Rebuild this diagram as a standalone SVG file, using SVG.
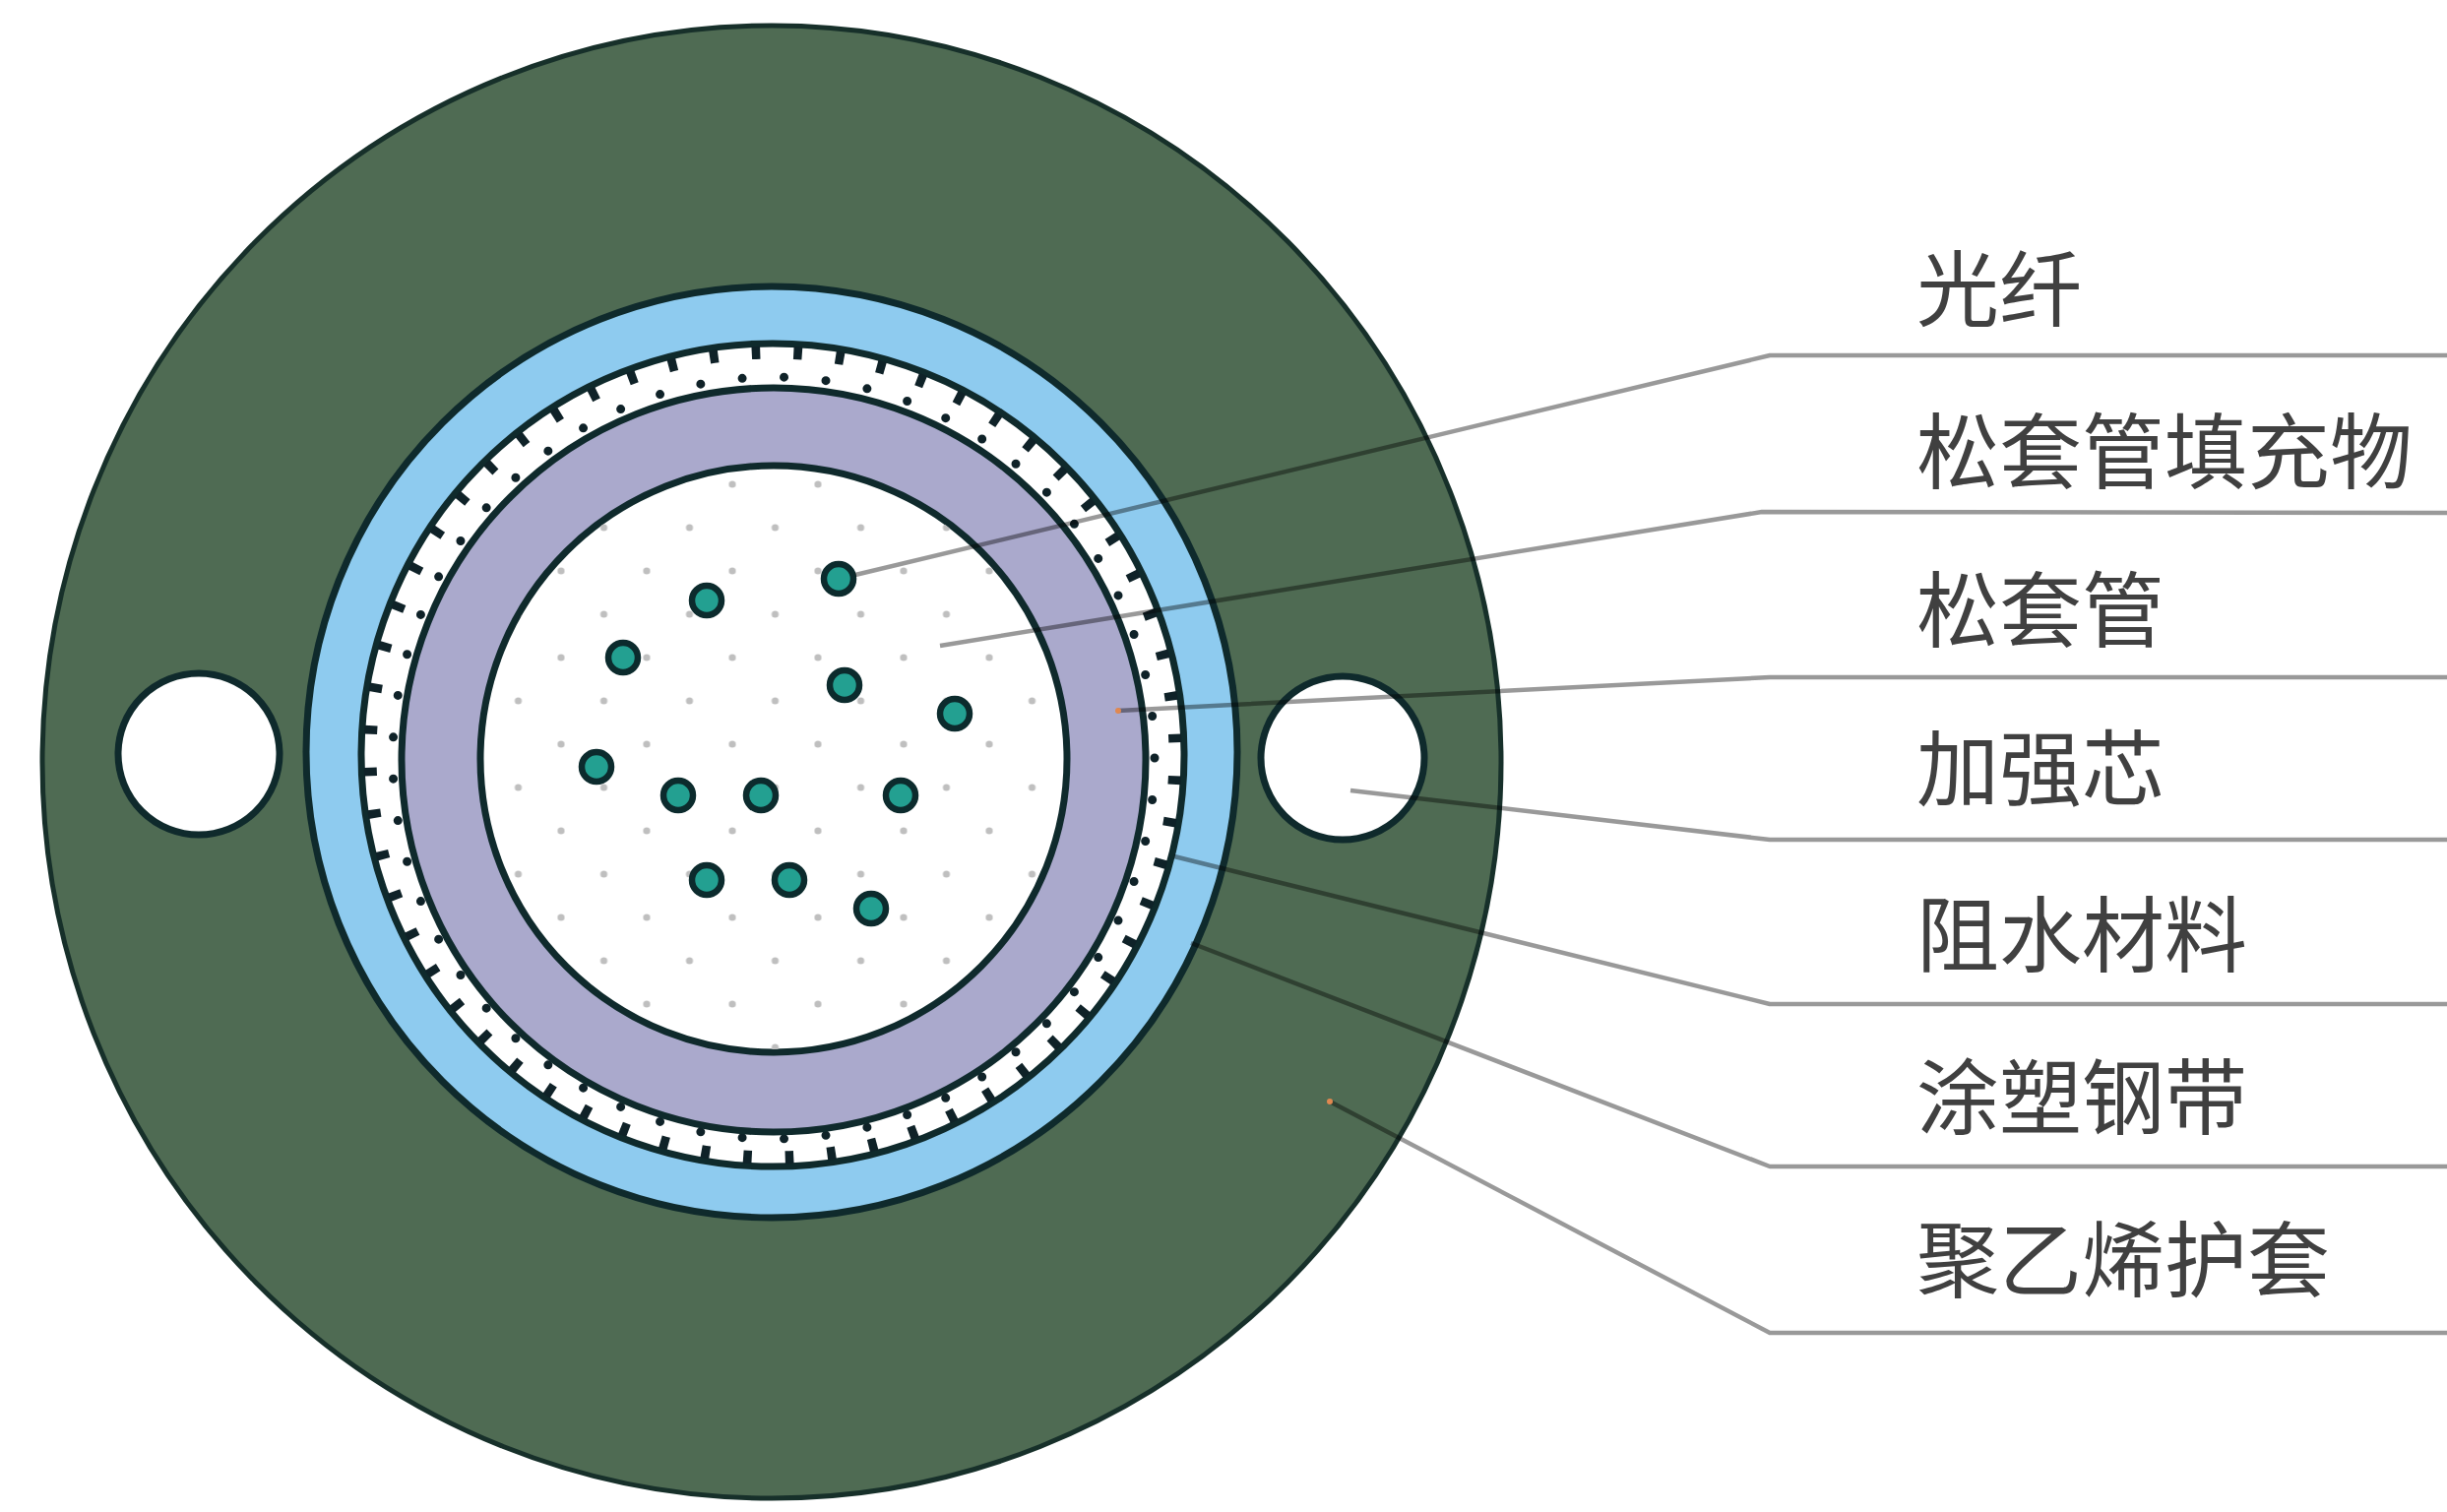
<svg xmlns="http://www.w3.org/2000/svg" width="2486" height="1536" viewBox="0 0 2486 1536">
  <style>
    .edge { stroke: #0f2a2c; stroke-width: 7; }
    .fiber { fill: #23a091; stroke: #0c2b2d; stroke-width: 6.5; }
    .hole { fill: #ffffff; stroke: #0f2a2c; stroke-width: 7; }
    .lead { fill: none; stroke: #000000; stroke-opacity: 0.4; stroke-width: 4.5; stroke-linejoin: round; }
    .tip { fill: #e08850; }
    .label { font-family: "Noto Sans CJK SC", "Noto Sans", sans-serif; font-size: 84px; fill: #404040; }
  </style>
  <defs>
    <!-- faint staggered dots of the tube filler -->
    <pattern id="fillerDots" patternUnits="userSpaceOnUse" x="526.5" y="558" width="87" height="88">
      <circle cx="43.5" cy="22" r="3.6" fill="#bfbfbf"/>
      <circle cx="0" cy="66" r="3.6" fill="#bfbfbf"/>
      <circle cx="87" cy="66" r="3.6" fill="#bfbfbf"/>
    </pattern>
    <clipPath id="tubeInside">
      <circle cx="786" cy="771" r="295"/>
    </clipPath>
  </defs>

  <rect width="2486" height="1536" fill="#ffffff"/>

  <!-- polyethylene sheath -->
  <g id="sheath">
    <ellipse cx="784" cy="774" rx="741" ry="748" fill="#4f6b53" stroke="#17302a" stroke-width="5"/>
  </g>

  <!-- strength members -->
  <g id="strength-member-left">
    <circle class="hole" cx="202" cy="766" r="82"/>
  </g>
  <g id="strength-member-right">
    <circle class="hole" cx="1364" cy="770" r="83"/>
  </g>

  <!-- plastic coated steel tape -->
  <g id="steel-tape">
    <circle class="edge" cx="784" cy="764" r="473" fill="#8ecbef"/>
  </g>

  <!-- water blocking layer with corrugation marks -->
  <g id="water-block">
    <circle class="edge" cx="785" cy="767" r="418" fill="#ffffff"/>
    <circle cx="785" cy="767" r="409" fill="none" stroke="#0f2228" stroke-width="13" pathLength="60" stroke-dasharray="0.2 0.8" stroke-dashoffset="0.5"/>
    <circle cx="786" cy="770" r="387" fill="none" stroke="#0f2228" stroke-width="9" stroke-linecap="round" pathLength="57" stroke-dasharray="0 1"/>
  </g>

  <!-- loose tube -->
  <g id="loose-tube">
    <circle class="edge" cx="786" cy="772" r="378" fill="#aaa9cc"/>
  </g>

  <!-- tube filler -->
  <g id="tube-filler">
    <circle class="edge" cx="786" cy="771" r="298" fill="#ffffff"/>
    <rect x="480" y="465" width="612" height="612" fill="url(#fillerDots)" clip-path="url(#tubeInside)"/>
  </g>

  <!-- optical fibres -->
  <g id="fibres">
    <circle class="fiber" cx="852" cy="588" r="15"/>
    <circle class="fiber" cx="718" cy="610" r="15"/>
    <circle class="fiber" cx="633" cy="668" r="15"/>
    <circle class="fiber" cx="858" cy="696" r="15"/>
    <circle class="fiber" cx="970" cy="725" r="15"/>
    <circle class="fiber" cx="606" cy="779" r="15"/>
    <circle class="fiber" cx="689" cy="808" r="15"/>
    <circle class="fiber" cx="773" cy="808" r="15"/>
    <circle class="fiber" cx="915" cy="808" r="15"/>
    <circle class="fiber" cx="718" cy="894" r="15"/>
    <circle class="fiber" cx="802" cy="894" r="15"/>
    <circle class="fiber" cx="885" cy="923" r="15"/>
  </g>

  <!-- leader lines -->
  <g id="connectors">
    <polyline class="lead" points="869,584 1798,361 2486,361"/>
    <polyline class="lead" points="955,656 1790,520 2486,521"/>
    <polyline class="lead" points="1136,722 1798,688 2486,688"/>
    <polyline class="lead" points="1372,803 1798,853 2486,853"/>
    <polyline class="lead" points="1193,870 1798,1020 2486,1020"/>
    <polyline class="lead" points="1210,958 1798,1185 2486,1185"/>
    <polyline class="lead" points="1351,1119 1798,1354 2486,1354"/>
    <circle class="tip" cx="1136" cy="722" r="3"/>
    <circle class="tip" cx="1351" cy="1119" r="3"/>
  </g>

  <!-- labels -->
  <g id="labels">
    <text class="label" x="1947" y="325">光纤</text>
    <text class="label" x="1947" y="490">松套管填充物</text>
    <text class="label" x="1947" y="651">松套管</text>
    <text class="label" x="1947" y="812">加强芯</text>
    <text class="label" x="1947" y="981">阻水材料</text>
    <text class="label" x="1947" y="1146">涂塑钢带</text>
    <text class="label" x="1947" y="1311">聚乙烯护套</text>
  </g>
</svg>
